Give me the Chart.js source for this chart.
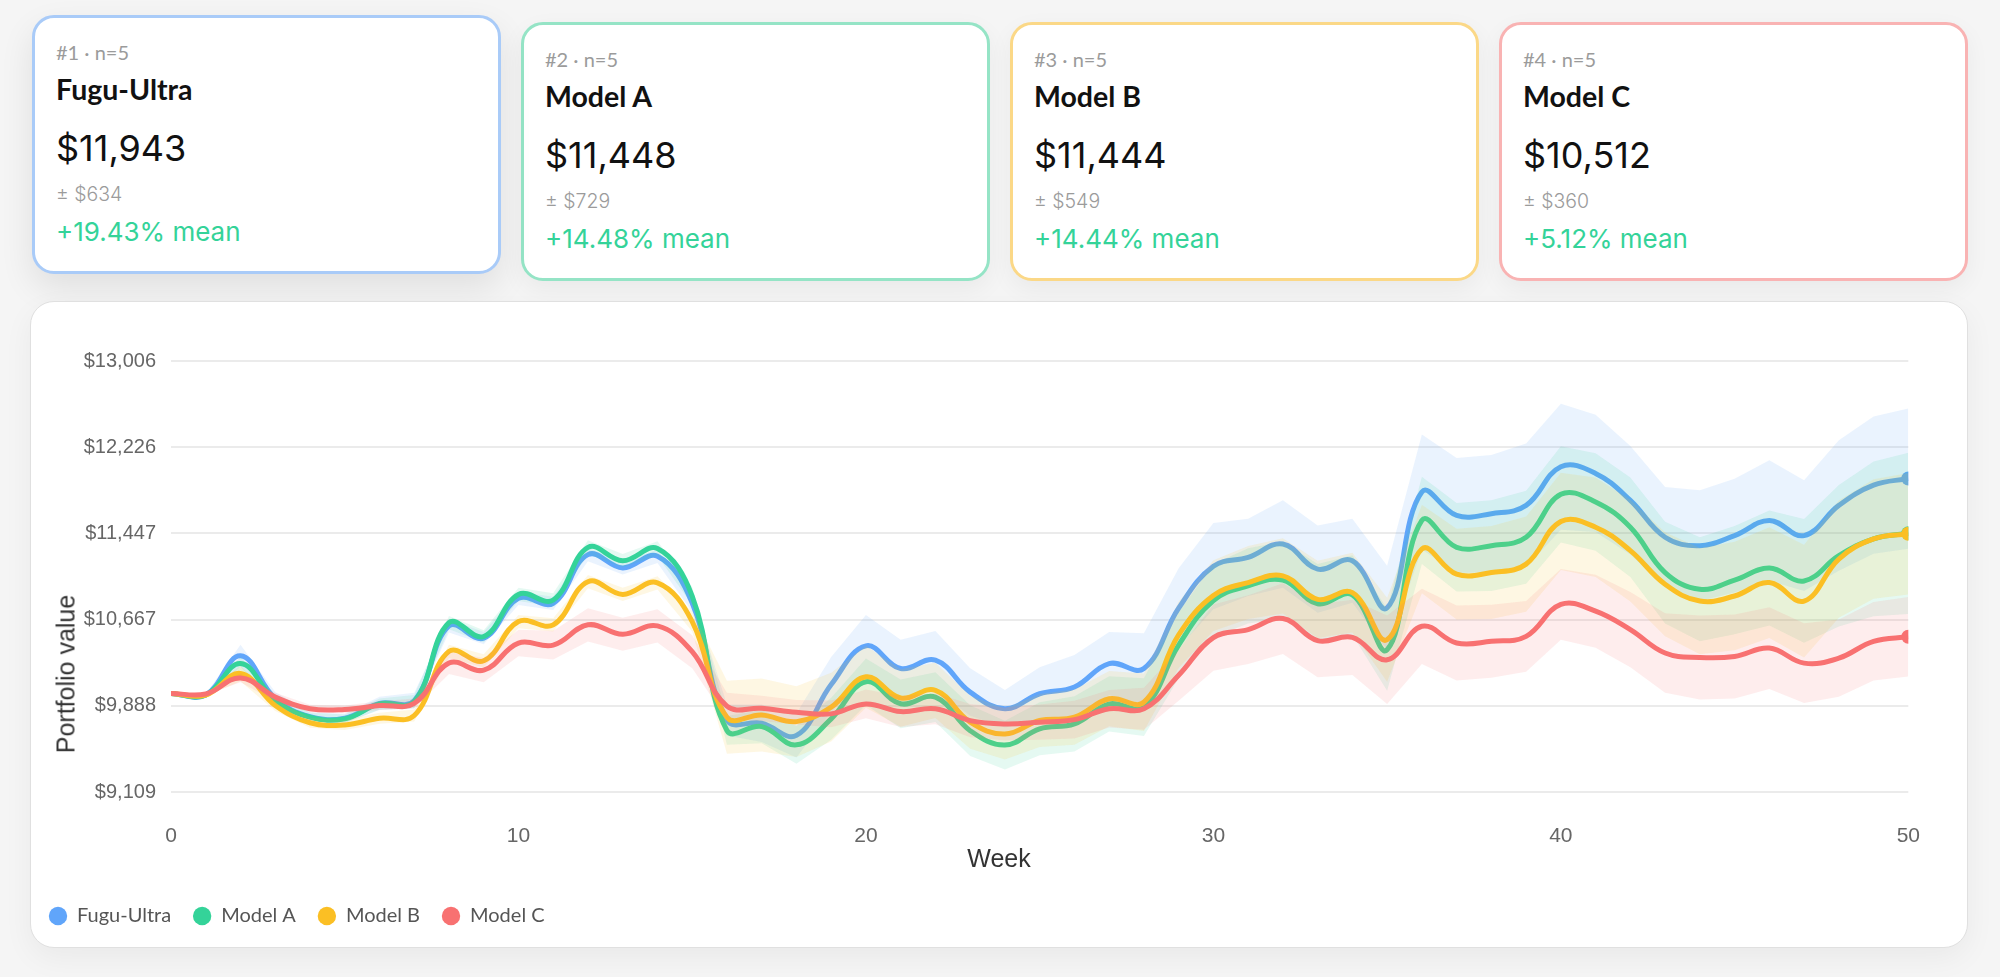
<!DOCTYPE html>
<html>
<head>
<meta charset="utf-8">
<script src="https://cdn.jsdelivr.net/npm/chart.js@4.4.1/dist/chart.umd.min.js"></script>
<style>
  html, body { margin: 0; padding: 0; }
  body { width: 2000px; height: 977px; background: #f5f5f5; position: relative; overflow: hidden; font-family: "Lato", sans-serif; }
  .cards { position: absolute; left: 32px; top: 22px; width: 1936px; display: flex; gap: 20px; }
  .card { box-sizing: border-box; width: 469px; height: 259px; background: #fff; border: 3px solid #ccc; border-radius: 22px;
          padding: 22px 0 0 21px; box-shadow: 0 8px 24px rgba(0,0,0,0.05); }
  .card.top { transform: translateY(-7px); box-shadow: 0 14px 34px rgba(0,0,0,0.09); }
  .tag { font-size: 20px; line-height: 25px; color: #9b9b9b; }
  .name { font-size: 28.5px; font-weight: 700; line-height: 32px; margin-top: 8px; color: #111; }
  .val { font-family: "Inter", sans-serif; font-size: 36px; line-height: 48px; margin-top: 19px; color: #111; }
  .sd { font-family: "Inter", sans-serif; font-size: 19.5px; font-weight: 300; line-height: 22px; margin-top: 11px; color: #9b9b9b; }
  .mean { font-family: "Inter", sans-serif; font-size: 26px; line-height: 30px; margin-top: 12px; color: #34d399; }
  .panel { position: absolute; left: 30px; top: 301px; width: 1938px; height: 647px; box-sizing: border-box; background: #fff;
           border: 1px solid #e0e0e0; border-radius: 24px; box-shadow: 0 10px 30px rgba(0,0,0,0.05); }
  #wrap { position: absolute; left: 27px; top: 321px; width: 1925px; height: 615px; }
  .axt { position: absolute; font-family: "Liberation Sans", Arial, sans-serif; font-size: 25px; color: #333; white-space: nowrap; z-index: 2; }
  #ytitle { left: 66px; top: 674px; transform: translate(-50%, -50%) rotate(-90deg); }
  #xtitle { left: 999px; top: 858px; transform: translate(-50%, -50%); }
</style>
</head>
<body>
<div class="cards">
  <div class="card top" style="border-color:#a9cbf8">
    <div class="tag">#1 · n=5</div><div class="name">Fugu-Ultra</div>
    <div class="val">$11,943</div><div class="sd">± $634</div><div class="mean">+19.43% mean</div>
  </div>
  <div class="card" style="border-color:#95e4c6">
    <div class="tag">#2 · n=5</div><div class="name">Model A</div>
    <div class="val">$11,448</div><div class="sd">± $729</div><div class="mean">+14.48% mean</div>
  </div>
  <div class="card" style="border-color:#fbd887">
    <div class="tag">#3 · n=5</div><div class="name">Model B</div>
    <div class="val">$11,444</div><div class="sd">± $549</div><div class="mean">+14.44% mean</div>
  </div>
  <div class="card" style="border-color:#f9b3b3">
    <div class="tag">#4 · n=5</div><div class="name">Model C</div>
    <div class="val">$10,512</div><div class="sd">± $360</div><div class="mean">+5.12% mean</div>
  </div>
</div>
<div class="panel"></div>
<div id="wrap"><canvas id="perfChart"></canvas></div>
<div class="axt" id="ytitle">Portfolio value</div>
<div class="axt" id="xtitle">Week</div>

<script>
// weeks on the x axis
const weeks = [0,1,2,3,4,5,6,7,8,9,10,11,12,13,14,15,16,17,18,19,20,21,22,23,24,25,26,27,28,29,30,
               31,32,33,34,35,36,37,38,39,40,41,42,43,44,45,46,47,48,49,50];
const xTicks = [0, 10, 20, 30, 40, 50];
const yTicks = [9108.6, 9888, 10667.4, 11446.8, 12226.2, 13005.6];

const modelNames = ['Fugu-Ultra', 'Model A', 'Model B', 'Model C'];
const modelColors = ['96,165,250', '52,211,153', '251,191,36', '248,113,113'];

// mean portfolio value per week
const fuguMean = [10000,9985,10340,9952,9790,9775,9910,9935,10610,10500,10860,10815,11255,11135,11240,10817,9760,9730,9620,10080,
                  10430,10225,10300,10012,9861,9997,10058,10270,10225,10771,11150,11230,11351,11124,11200,10774,11822,11609,11625,11700,
                  12050,11989,11746,11412,11336,11427,11564,11427,11700,11883,11943];
const modelAMean = [10000,9985,10270,9937,9785,9770,9905,9925,10640,10515,10895,10845,11320,11200,11310,10880,9665,9700,9535,9770,
                    10105,9906,9967,9663,9533,9680,9724,9906,9876,10437,10840,10972,11024,10811,10890,10395,11564,11321,11336,11412,
                    11800,11731,11503,11093,10941,11024,11133,11017,11245,11397,11448];
const modelBMean = [10000,9985,10180,9891,9735,9715,9775,9800,10380,10295,10650,10620,11010,10895,11000,10650,9785,9805,9745,9876,
                    10150,9958,10028,9740,9633,9755,9785,9952,9921,10529,10885,11002,11063,10850,10911,10486,11306,11078,11093,11169,
                    11555,11503,11291,10987,10835,10881,11002,10835,11215,11397,11444];
const modelCMean = [10000,9995,10140,9967,9862,9855,9890,9910,10275,10210,10455,10437,10620,10535,10610,10377,9885,9865,9830,9815,
                    9905,9836,9861,9754,9724,9740,9763,9861,9861,10164,10505,10577,10677,10477,10507,10304,10607,10456,10471,10516,
                    10805,10744,10577,10365,10325,10334,10410,10274,10319,10471,10512];

// spread (std dev across runs) per week
const fuguSd = [0,10,100,60,40,40,60,70,60,55,60,60,60,60,60,80,140,170,200,250,
                280,260,265,215,170,240,290,285,320,360,390,350,395,395,380,380,520,520,530,560,
                570,530,490,455,500,515,545,500,590,620,634];
const modelASd = [0,10,60,50,40,40,50,60,60,55,60,60,65,60,65,80,130,150,170,190,
                  210,220,225,230,220,240,250,250,260,300,330,340,350,360,360,370,395,400,410,420,
                  435,440,450,460,470,490,520,560,640,700,729];
const modelBSd = [0,10,70,50,45,45,50,55,60,60,60,60,60,60,60,90,330,330,320,310,
                  280,260,250,240,230,240,250,250,260,300,320,330,340,350,360,380,400,410,420,430,
                  440,450,460,470,480,490,500,510,530,540,549];
const modelCSd = [0,10,40,40,35,35,40,45,100,110,120,130,150,150,150,150,120,115,110,120,
                  130,140,140,150,150,160,170,170,190,230,300,310,320,330,340,400,340,340,330,320,
                  320,330,340,360,380,380,370,360,350,355,360];

const means = [fuguMean, modelAMean, modelBMean, modelCMean];
const sds = [fuguSd, modelASd, modelBSd, modelCSd];

let datasets = [];
means.forEach(function (m, k) {
	let col = modelColors[k];
	let base = 8 - k * 2;
	datasets.push({
		label: '', data: weeks.map((w, i) => ({x: w, y: m[i] + sds[k][i]})),
		borderWidth: 0, pointRadius: 0, tension: 0, fill: '+1',
		backgroundColor: 'rgba(' + col + ',0.13)', order: base
	});
	datasets.push({
		label: '', data: weeks.map((w, i) => ({x: w, y: m[i] - sds[k][i]})),
		borderWidth: 0, pointRadius: 0, tension: 0, fill: false, order: base
	});
	datasets.push({
		label: modelNames[k], data: weeks.map((w, i) => ({x: w, y: m[i]})),
		borderColor: 'rgb(' + col + ')', backgroundColor: 'rgb(' + col + ')',
		borderWidth: 5, tension: 0.4, fill: false, order: base - 1,
		pointRadius: ctx => ctx.dataIndex === weeks.length - 1 ? 7 : 0,
		pointBorderWidth: 0, pointBackgroundColor: 'rgb(' + col + ')'
	});
});

Chart.defaults.font.family = '"Liberation Sans", Arial, sans-serif';

let chart = new Chart('perfChart', {
	type: 'line',
	data: { datasets: datasets },
	options: {
		responsive: true,
		maintainAspectRatio: false,
		animation: false,
		layout: { padding: { top: 40, right: 0, left: 0, bottom: 0 } },
		scales: {
			x: {
				type: 'linear', min: 0, max: 50,
				grid: { display: false, drawTicks: false },
				border: { display: false },
				afterBuildTicks: s => { s.ticks = xTicks.map(v => ({value: v})); },
				afterFit: s => { s.height = 92; },
				ticks: { color: '#666', font: { size: 21 }, padding: 32 }
			},
			y: {
				min: yTicks[0], max: yTicks[yTicks.length - 1],
				grid: { color: '#ebebeb', lineWidth: 2, drawTicks: false },
				border: { display: false },
				afterBuildTicks: s => { s.ticks = yTicks.map(v => ({value: v})); },
				afterFit: s => { s.width = 144; },
				ticks: {
					color: '#666', font: { size: 20 }, padding: 15,
					callback: v => '$' + Math.round(v).toLocaleString('en-US')
				}
			}
		},
		plugins: {
			tooltip: { enabled: false },
			legend: {
				position: 'bottom', align: 'start',
				labels: {
					usePointStyle: true, boxWidth: 18, boxHeight: 13, padding: 22,
					color: '#555', font: { family: 'Lato', size: 20 },
					generateLabels: function (c) {
						let items = Chart.defaults.plugins.legend.labels.generateLabels(c);
						items.forEach(it => { it.lineWidth = 0; it.fillStyle = it.strokeStyle; });
						return items.filter(it => it.text !== '');
					},
					sort: (a, b) => a.datasetIndex - b.datasetIndex
				}
			}
		}
	}
});
</script>
</body>
</html>
